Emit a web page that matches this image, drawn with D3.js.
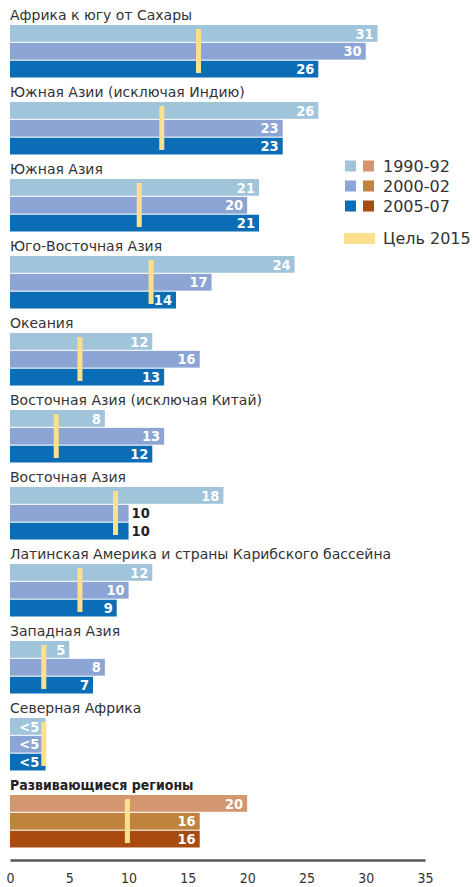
<!DOCTYPE html>
<html>
<head>
<meta charset="utf-8">
<script src="https://cdn.jsdelivr.net/npm/d3@7"></script>
<style>
  body { margin: 0; background: #fff; }
  svg text { font-family: "DejaVu Sans", Verdana, sans-serif; }
  .title { font-size: 14px; fill: #333; }
  .title.total { font-family: "DejaVu Sans Condensed", "DejaVu Sans", sans-serif; font-weight: bold; fill: #222; }
  .val { font-family: "DejaVu Sans Condensed", "DejaVu Sans", sans-serif; font-size: 14.5px; font-weight: bold; }
  .axis text { font-family: "DejaVu Sans Condensed", "DejaVu Sans", sans-serif; font-size: 14px; fill: #333; }
  .legend text { font-size: 16px; fill: #333; }
</style>
</head>
<body>
<div id="chart"></div>
<script>
// regions, top to bottom (the last one is the developing-regions total)
const regions = [
  "Африка к югу от Сахары",
  "Южная Азии (исключая Индию)",
  "Южная Азия",
  "Юго-Восточная Азия",
  "Океания",
  "Восточная Азия (исключая Китай)",
  "Восточная Азия",
  "Латинская Америка и страны Карибского бассейна",
  "Западная Азия",
  "Северная Африка",
  "Развивающиеся регионы"
]
const periods = ["1990-92", "2000-02", "2005-07"]
const v1990 = [31, 26, 21, 24, 12, 8, 18, 12, 5, 3, 20]
const v2000 = [30, 23, 20, 17, 16, 13, 10, 10, 8, 3, 16]
const v2005 = [26, 23, 21, 14, 13, 12, 10, 9, 7, 3, 16]
// "Цель 2015" marker
const goal = [15.9, 12.8, 10.9, 11.9, 5.9, 3.9, 8.9, 5.9, 2.85, 2.85, 9.9]
const ticks = [0, 5, 10, 15, 20, 25, 30, 35]

const blues = ["#a0c4da", "#8ca5d4", "#0b6db5"]
const browns = ["#d4966f", "#bf833c", "#a84b10"]
const goalColor = "#fde08e"

const width = 473, height = 887

const svg = d3.select("#chart").append("svg")
  .attr("width", width)
  .attr("height", height)

const x = d3.scaleLinear().domain([0, 35]).range([10, 425])

const groupY = d3.scaleBand().domain(regions).range([25, 25 + regions.length * 77])
const barY = d3.scaleBand().domain(periods).range([0, 52.5]).paddingInner(0.06)

const series = [v1990, v2000, v2005]
const label = (v) => v < 5 ? "<5" : String(v)

regions.forEach((r, i) => {
  const isTotal = i === regions.length - 1
  const colors = isTotal ? browns : blues
  const g = svg.append("g").attr("transform", "translate(0," + groupY(r) + ")")

  g.append("text")
    .attr("class", isTotal ? "title total" : "title")
    .attr("x", 10)
    .attr("y", -5)
    .text(r)

  const rows = periods.map((p, k) => ({ p: p, v: series[k][i], c: colors[k] }))

  g.selectAll("rect.bar")
    .data(rows)
    .enter()
    .append("rect")
    .attr("class", "bar")
    .attr("x", x(0))
    .attr("y", d => barY(d.p))
    .attr("width", d => x(d.v) - x(0))
    .attr("height", barY.bandwidth())
    .attr("fill", d => d.c)

  const gx = x(goal[i])
  g.append("rect")
    .attr("x", gx - 2.5)
    .attr("y", 4)
    .attr("width", 5)
    .attr("height", 52.5 - 8.5)
    .attr("fill", goalColor)

  rows.forEach(d => {
    const t = g.append("text")
      .attr("class", "val")
      .attr("y", barY(d.p) + barY.bandwidth() / 2)
      .attr("dy", "0.36em")
      .text(label(d.v))
    const w = t.node().getComputedTextLength()
    let right = x(d.v) - 4
    if (d.v < 5) {
      // tiny bars: keep the label clear of the goal marker
      t.attr("x", Math.min(right, gx - 4.5)).attr("text-anchor", "end").attr("fill", "#fff")
    } else if (right - w < gx && right > gx - 2.5) {
      // label would sit on the goal marker -> put it after the bar
      t.attr("x", x(d.v) + 3).attr("text-anchor", "start").attr("fill", "#222")
    } else {
      t.attr("x", right).attr("text-anchor", "end").attr("fill", "#fff")
    }
  })
})

// axis
const axis = svg.append("g")
  .attr("class", "axis")
  .attr("transform", "translate(0,860)")
  .call(d3.axisBottom(x).tickValues(ticks).tickSize(0).tickPadding(13).tickSizeOuter(0))
axis.select(".domain").attr("stroke", "#555").attr("stroke-width", 2.5)

// legend
const legend = svg.append("g").attr("class", "legend")
periods.forEach((p, k) => {
  const cy = 166 + k * 20
  legend.append("rect").attr("x", 345).attr("y", cy - 5.5).attr("width", 11).attr("height", 11).attr("fill", blues[k])
  legend.append("rect").attr("x", 363).attr("y", cy - 5.5).attr("width", 11).attr("height", 11).attr("fill", browns[k])
  legend.append("text").attr("x", 383).attr("y", cy).attr("dy", "0.36em").text(p)
})
legend.append("rect").attr("x", 344).attr("y", 233).attr("width", 31).attr("height", 11).attr("fill", goalColor)
legend.append("text").attr("x", 383).attr("y", 238.5).attr("dy", "0.36em").text("Цель 2015")
</script>
</body>
</html>
